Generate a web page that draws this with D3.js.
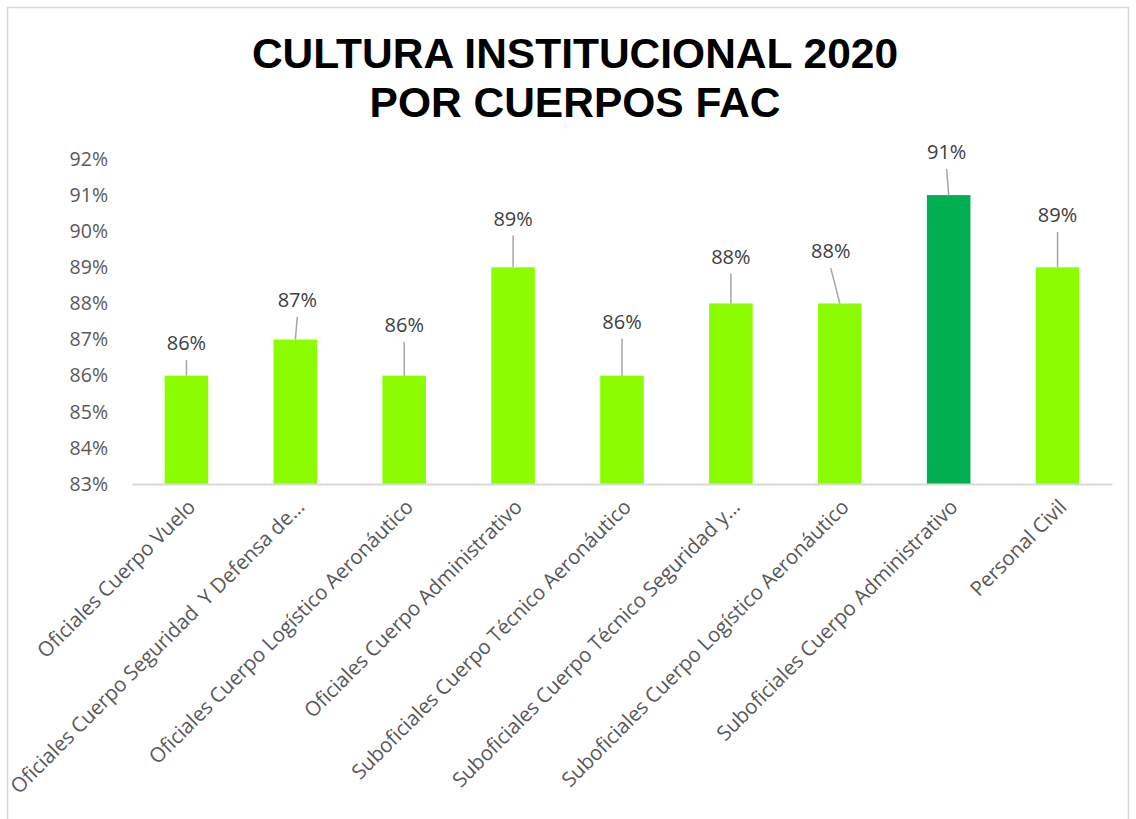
<!DOCTYPE html>
<html>
<head>
<meta charset="utf-8">
<script src="https://cdn.jsdelivr.net/npm/d3@7"></script>
<style>
  body { margin: 0; background: white; }
</style>
</head>
<body>
<div id="canvas"></div>
<script>
var w = 1136;
var h = 819;

var categories = [
    "Oficiales Cuerpo Vuelo",
    "Oficiales Cuerpo Seguridad  Y Defensa de...",
    "Oficiales Cuerpo Logístico Aeronáutico",
    "Oficiales Cuerpo Administrativo",
    "Suboficiales Cuerpo Técnico Aeronáutico",
    "Suboficiales Cuerpo Técnico Seguridad y...",
    "Suboficiales Cuerpo Logístico Aeronáutico",
    "Suboficiales Cuerpo Administrativo",
    "Personal Civil"
];
var values = [86, 87, 86, 89, 86, 88, 88, 91, 89];
var highlighted = ["Suboficiales Cuerpo Administrativo"];
var yTicks = [83, 84, 85, 86, 87, 88, 89, 90, 91, 92];
var titleLines = ["CULTURA INSTITUCIONAL 2020", "POR CUERPOS FAC"];

// data labels were dragged by hand in the original, so each has its own lift (in % points)
var labelLift = [0.9, 1.1, 1.4, 1.35, 1.5, 1.3, 1.45, 1.2, 1.45];
var labelShift = [0, 2, 0, 0, 0, 0, -9, -2, 0];

var xScale = d3.scaleBand()
               .domain(categories)
               .range([132, 1112])
               .paddingInner(0.6)
               .paddingOuter(0.3);

var yScale = d3.scaleLinear()
               .domain([83, 92])
               .range([484, 159]);

var canvas = d3.select("#canvas")
               .append("svg")
               .attr("width", w)
               .attr("height", h)
               .style("background-color", "white");

canvas.append("rect")
    .attr("x", 7.5)
    .attr("y", 7.5)
    .attr("width", 1121)
    .attr("height", 816)
    .attr("fill", "none")
    .attr("stroke", "#d9d9d9")
    .attr("stroke-width", 1.5);

canvas.selectAll(".title")
    .data(titleLines)
    .join("text")
    .attr("class", "title")
    .attr("x", 575)
    .attr("y", (d, i) => 68 + i * 49)
    .attr("text-anchor", "middle")
    .style("font-family", "'Liberation Sans', Arial, sans-serif")
    .style("font-weight", "bold")
    .style("font-size", "42.5px")
    .style("fill", "black")
    .text(d => d);

// y axis: labels only
var yAxis = d3.axisLeft(yScale)
              .tickValues(yTicks)
              .tickFormat(d => d + "%")
              .tickSize(0)
              .tickPadding(24);

var yG = canvas.append("g")
    .attr("transform", "translate(132, 0)")
    .call(yAxis);
yG.select(".domain").remove();
yG.selectAll("text")
    .style("font-family", "'Open Sans', sans-serif")
    .style("font-size", "19.5px")
    .style("fill", "#595959");

var bars = canvas.selectAll(".bar")
    .data(values)
    .join("rect")
    .attr("class", "bar")
    .attr("x", (d, i) => xScale(categories[i]))
    .attr("width", xScale.bandwidth())
    .attr("y", d => yScale(d))
    .attr("height", d => yScale(83) - yScale(d))
    .attr("fill", (d, i) => highlighted.includes(categories[i]) ? "#00b050" : "#8cfc00");

// x axis line + rotated labels
var xAxis = d3.axisBottom(xScale).tickSize(0).tickFormat("");
var xG = canvas.append("g")
    .attr("transform", "translate(0, 484)")
    .call(xAxis);
xG.select(".domain")
    .attr("stroke", "#d9d9d9")
    .attr("stroke-width", 2);

canvas.selectAll(".cat")
    .data(categories)
    .join("text")
    .attr("class", "cat")
    .attr("text-anchor", "end")
    .attr("dy", "0.71em")
    .attr("transform", d => `translate(${xScale(d) + xScale.bandwidth() / 2}, 498) rotate(-45)`)
    .style("font-family", "'Open Sans', sans-serif")
    .style("font-size", "20.5px")
    .style("letter-spacing", "-0.1px")
    .style("fill", "#595959")
    .style("white-space", "pre")
    .text(d => d);

// leader lines and data labels
function cx(i) { return xScale(categories[i]) + xScale.bandwidth() / 2; }

canvas.selectAll(".leader")
    .data(values)
    .join("line")
    .attr("class", "leader")
    .attr("x1", (d, i) => cx(i))
    .attr("y1", d => yScale(d))
    .attr("x2", (d, i) => cx(i) + labelShift[i])
    .attr("y2", (d, i) => yScale(d + labelLift[i]) + 17)
    .attr("stroke", "#a6a6a6")
    .attr("stroke-width", 1.5);

canvas.selectAll(".vlabel")
    .data(values)
    .join("text")
    .attr("class", "vlabel")
    .attr("x", (d, i) => cx(i) + labelShift[i])
    .attr("y", (d, i) => yScale(d + labelLift[i]))
    .attr("dy", "0.35em")
    .attr("text-anchor", "middle")
    .style("font-family", "'Open Sans', sans-serif")
    .style("font-size", "20px")
    .style("fill", "#404040")
    .text(d => d + "%");
</script>
</body>
</html>
